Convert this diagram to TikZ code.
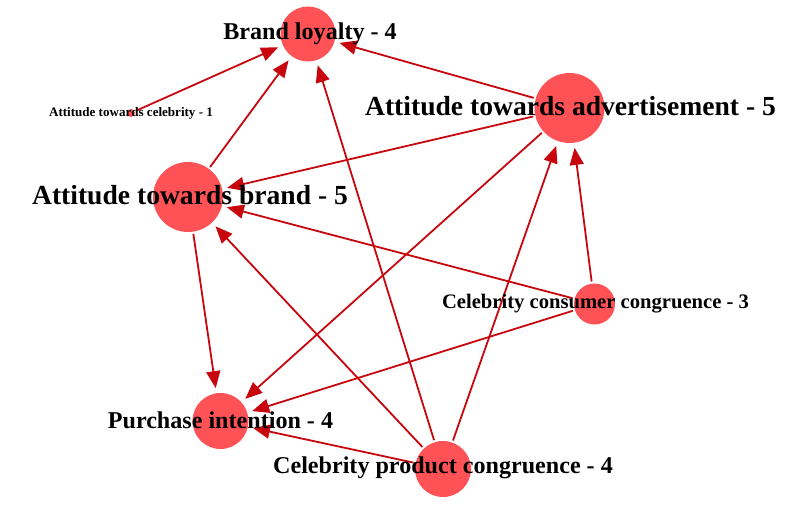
\documentclass[tikz,border=0pt]{standalone}
\usepackage{fontspec}
\setmainfont{Liberation Serif}
\usepackage{xcolor}
\usepackage{tikz}
\usetikzlibrary{arrows.meta}

\definecolor{nodefill}{HTML}{FF5257}
\definecolor{edgered}{HTML}{C8060E}

\begin{document}
\begin{tikzpicture}[x=1bp, y=-1bp,
    vertex/.style={circle, fill=nodefill, inner sep=0pt},
    edge/.style={-{Triangle[length=17bp, width=14bp]}, edgered, line width=1.8bp, shorten >=5bp, shorten <=2bp},
    lblA/.style={font=\bfseries\fontsize{27.7}{30}\selectfont, inner sep=0pt},
    lblB/.style={font=\bfseries\fontsize{24.2}{26}\selectfont, inner sep=0pt},
    lblC/.style={font=\bfseries\fontsize{20.7}{23}\selectfont, inner sep=0pt},
    lblD/.style={font=\bfseries\fontsize{13.1}{15}\selectfont, inner sep=0pt}]
    \useasboundingbox (0,0) rectangle (796,517);

    % Circles
    \node[vertex, minimum size=55bp] (loyal) at (308,34) {};
    \node[vertex, minimum size=8bp] (celeb) at (131,113) {};
    \node[vertex, minimum size=70bp] (advert) at (569.5,108) {};
    \node[vertex, minimum size=70bp] (brand) at (188,197) {};
    \node[vertex, minimum size=41bp] (consumer) at (594.5,304) {};
    \node[vertex, minimum size=56bp] (intent) at (220.5,421) {};
    \node[vertex, minimum size=56bp] (product) at (443,469) {};

    % Edges
    \draw[edge] (celeb) -- (loyal);
    \draw[edge] (brand) -- (loyal);
    \draw[edge] (advert) -- (loyal);
    \draw[edge] (product) -- (loyal);
    \draw[edge] (advert) -- (brand);
    \draw[edge] (consumer) -- (brand);
    \draw[edge] (product) -- (brand);
    \draw[edge] (consumer) -- (advert);
    \draw[edge] (product) -- (advert);
    \draw[edge] (brand) -- (intent);
    \draw[edge] (advert) -- (intent);
    \draw[edge] (consumer) -- (intent);
    \draw[edge] (product) -- (intent);

    % Labels
    \node[lblB] (loyalLbl) at ([xshift=2bp]loyal) {Brand loyalty - 4};
    \node[lblD] (celebLbl) at (celeb) {Attitude towards celebrity - 1};
    \node[lblA] (advertLbl) at ([xshift=1bp, yshift=2bp]advert) {Attitude towards advertisement - 5};
    \node[lblA] (brandLbl) at ([xshift=2bp, yshift=2bp]brand) {Attitude towards brand - 5};
    \node[lblC] (consumerLbl) at ([xshift=1bp]consumer) {Celebrity consumer congruence - 3};
    \node[lblB] (intentLbl) at ([yshift=1bp]intent) {Purchase intention - 4};
    \node[lblB] (productLbl) at ([yshift=1bp]product) {Celebrity product congruence - 4};
\end{tikzpicture}
\end{document}
